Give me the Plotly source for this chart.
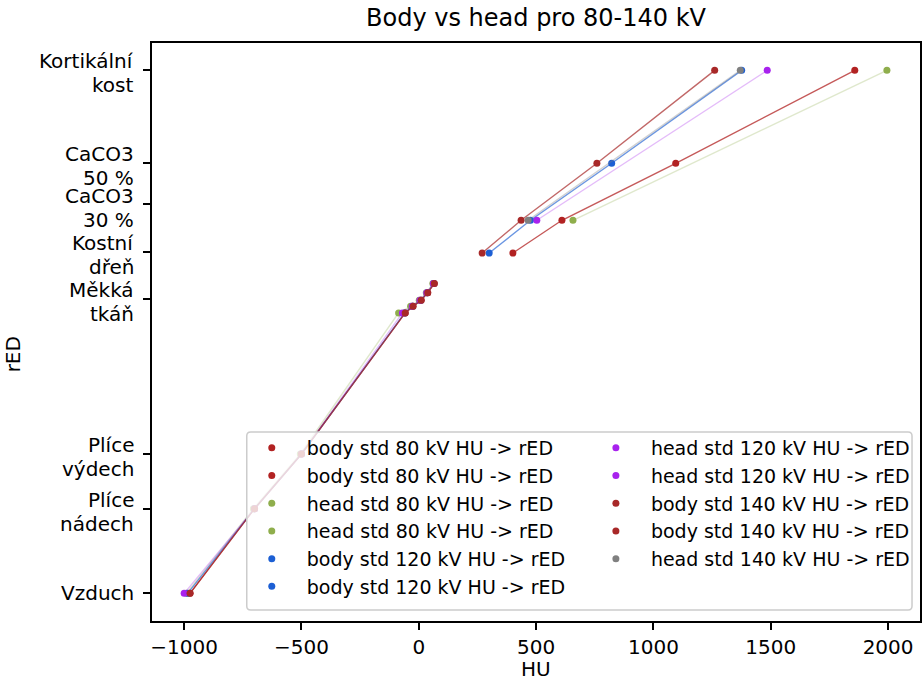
import plotly.graph_objects as go

# ---------------- data ----------------
# rED levels of the phantom inserts (low-density group and bone group)
LOW_RED = [0.001, 0.298, 0.49, 0.985, 1.008, 1.029, 1.056, 1.088]
BODY_BONE_RED = [1.195, 1.31, 1.51, 1.836]
HEAD_BONE_RED = [1.31, 1.836]

# measured HU
body80_low = [-975, -700, -500, -58, -26, 10, 38, 66]
head80_low = [-990, -705, -505, -86, -35, 2, 32, 60]
body120_low = [-985, -700, -500, -60, -27, 8, 36, 64]
head120_low = [-1000, -700, -500, -70, -28, 5, 34, 62]
body140_low = [-975, -700, -500, -58, -24, 10, 38, 66]

body80_bone = [401, 610, 1095, 1858]
head80_bone = [657, 1995]
body120_bone = [300, 476, 822, 1376]
head120_bone = [503, 1485]
body140_bone = [270, 436, 759, 1261]
head140_bone = [466, 1370]

# y tick labels
TICK_RED = [0.001, 0.298, 0.49, 1.035, 1.199, 1.366, 1.512, 1.839]
TICK_TEXT = ["Vzduch", "Plíce\nnádech", "Plíce\nvýdech", "Měkká\ntkáň",
             "Kostní\ndřeň", "CaCO3\n30 %", "CaCO3\n50 %", "Kortikální\nkost"]
X_TICKS = [-1000, -500, 0, 500, 1000, 1500, 2000]

LABEL_SUFFIX = " HU -> rED"

# ---------------- styles ----------------
C_RED1 = "#b22222"
C_RED2 = "#a82828"
C_GREEN = "#8fae4c"
C_BLUE = "#1c5fd4"
C_PURPLE = "#a822ee"
C_GRAY = "#808080"

FONT = "DejaVu Sans"
FS = 20
FS_LEG = 19

series = [
    # name, color, line opacity, legend, [(x, y), ...]
    ("body std 80 kV", C_RED1, 0.75, "legend", [(body80_low, LOW_RED), (body80_bone, BODY_BONE_RED)]),
    ("head std 80 kV", C_GREEN, 0.28, "legend", [(head80_low, LOW_RED), (head80_bone, HEAD_BONE_RED)]),
    ("body std 120 kV", C_BLUE, 0.65, "legend", [(body120_low, LOW_RED), (body120_bone, BODY_BONE_RED)]),
    ("head std 120 kV", C_PURPLE, 0.3, "legend2", [(head120_low, LOW_RED), (head120_bone, HEAD_BONE_RED)]),
    ("body std 140 kV", C_RED2, 0.7, "legend2", [(body140_low, LOW_RED), (body140_bone, BODY_BONE_RED)]),
    ("head std 140 kV", C_GRAY, 0.35, "legend2", [(head140_bone, HEAD_BONE_RED)]),
]

fig = go.Figure()
for name, color, lop, leg, groups in series:
    for xs, ys in groups:
        fig.add_trace(go.Scatter(x=xs, y=ys, mode="lines",
                                 line=dict(color=color, width=1.4),
                                 opacity=lop, showlegend=False, hoverinfo="skip"))
        fig.add_trace(go.Scatter(x=xs, y=ys, mode="markers",
                                 marker=dict(color=color, size=7),
                                 name=name + LABEL_SUFFIX, legend=leg))

# plot area in pixels
W, H = 923, 680
ML, MR, MT, MB = 152, 1, 43, 59
PW = W - ML - MR
PH = H - MT - MB


def px_x(px):
    return (px - ML) / PW


def px_y(py):
    return (H - MB - py) / PH


# legend frame (rounded, semi-transparent)
bx0, bx1, by0, by1 = px_x(247), px_x(914), px_y(610), px_y(432)
rx, ry = 4 / PW, 4 / PH
path = (f"M {bx0+rx},{by0} L {bx1-rx},{by0} Q {bx1},{by0} {bx1},{by0+ry} "
        f"L {bx1},{by1-ry} Q {bx1},{by1} {bx1-rx},{by1} L {bx0+rx},{by1} "
        f"Q {bx0},{by1} {bx0},{by1-ry} L {bx0},{by0+ry} Q {bx0},{by0} {bx0+rx},{by0} Z")

legend_common = dict(bgcolor="rgba(0,0,0,0)", borderwidth=0,
                     font=dict(family=FONT, size=FS_LEG, color="#000"),
                     xanchor="left", yanchor="top", tracegroupgap=0, itemwidth=60)

# y tick labels as text annotations (matplotlib-like two-line layout)
annotations = []
for val, txt in zip(TICK_RED, TICK_TEXT):
    lines = txt.split("\n")
    shifts = [0] if len(lines) == 1 else [8.5, -15.5]
    for line, sh in zip(lines, shifts):
        annotations.append(dict(text=line, xref="paper", yref="y", x=px_x(136), y=val,
                                yshift=sh, xanchor="right", yanchor="middle",
                                showarrow=False, font=dict(family=FONT, size=FS, color="#000")))

annotations += [
    dict(text="HU", xref="paper", yref="paper", x=0.5, y=px_y(669), height=20,
         borderpad=0, xanchor="center", yanchor="middle", showarrow=False,
         font=dict(family=FONT, size=FS, color="#000")),
    dict(text="rED", xref="paper", yref="paper", x=px_x(13), y=px_y(354),
         xanchor="center", yanchor="middle", showarrow=False, textangle=-90,
         font=dict(family=FONT, size=FS, color="#000")),
]

fig.update_layout(
    width=W, height=H,
    margin=dict(l=ML, r=MR, t=MT, b=MB),
    paper_bgcolor="white", plot_bgcolor="white",
    font=dict(family=FONT, size=FS, color="#000"),
    title=dict(text="Body vs head pro 80-140 kV", x=0.5, xref="paper",
               y=1 - 18 / H, yanchor="middle", xanchor="center",
               font=dict(family=FONT, size=24, color="#000")),
    xaxis=dict(range=[-1137, 2136], showgrid=False, zeroline=False,
               showline=True, linecolor="#000", linewidth=1.6, mirror=True,
               ticks="outside", ticklen=7, tickwidth=1.6, tickcolor="#000",
               tickvals=X_TICKS,
               ticktext=[str(v).replace("-", "\u2212") for v in X_TICKS],
               tickfont=dict(family=FONT, size=FS, color="#000")),
    yaxis=dict(range=[-0.0961, 1.932], showgrid=False, zeroline=False,
               showline=True, linecolor="#000", linewidth=1.6, mirror=True,
               ticks="outside", ticklen=7, tickwidth=1.6, tickcolor="#000",
               tickvals=TICK_RED, showticklabels=False),
    legend=dict(x=px_x(237), y=px_y(429), **legend_common),
    legend2=dict(x=px_x(582), y=px_y(429), **legend_common),
    shapes=[dict(type="path", path=path, xref="paper", yref="paper",
                 fillcolor="rgba(255,255,255,0.8)", line=dict(color="#cccccc", width=1.5),
                 layer="above")],
    annotations=annotations,
)

fig.write_html("out.html")
